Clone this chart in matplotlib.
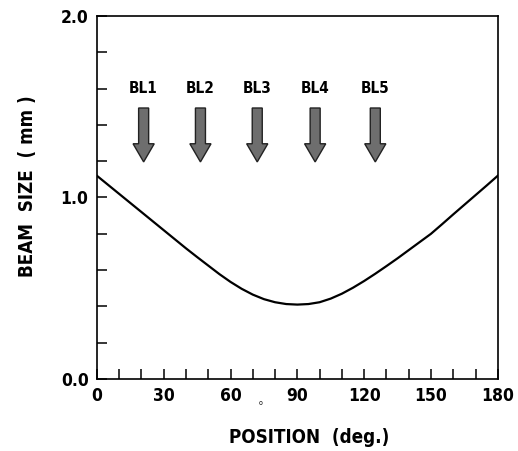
import matplotlib
matplotlib.use("Agg")
import matplotlib.pyplot as plt
from matplotlib.patches import FancyArrow
import numpy as np

plt.rcParams['font.family'] = ['DejaVu Sans']
plt.rcParams['font.stretch'] = 'condensed'
plt.rcParams['font.weight'] = 'bold'
plt.rcParams['axes.labelweight'] = 'bold'

position = [0, 5, 10, 15, 20, 25, 30, 35, 40, 45, 50, 55, 60, 65, 70, 75, 80, 85, 90,
            95, 100, 105, 110, 115, 120, 125, 130, 135, 140, 145, 150, 155, 160, 165, 170, 175, 180]
beam_size = [1.12, 1.07, 1.02, 0.97, 0.92, 0.87, 0.82, 0.77, 0.72, 0.672, 0.625, 0.578, 0.535,
             0.497, 0.465, 0.44, 0.423, 0.413, 0.41, 0.413, 0.423, 0.443, 0.47, 0.503, 0.54,
             0.58, 0.622, 0.665, 0.71, 0.755, 0.80, 0.853, 0.907, 0.96, 1.013, 1.066, 1.12]
beamlines = ["BL1", "BL2", "BL3", "BL4", "BL5"]
beamline_pos = [21, 46.5, 72, 98, 125]

fig = plt.figure(figsize=(5.18, 4.51), dpi=100)
ax = fig.add_axes([0.187, 0.1596, 0.774, 0.805])
ax.plot(position, beam_size, color='black', lw=1.6)

ax.set_xlim(0, 180)
ax.set_ylim(0, 2.0)
ax.set_xticks([0, 30, 60, 90, 120, 150, 180])
ax.set_xticks(np.arange(0, 181, 10), minor=True)
ax.set_yticks([0.0, 1.0, 2.0])
ax.set_yticklabels(["0.0", "1.0", "2.0"])
ax.set_yticks(np.arange(0, 2.01, 0.2), minor=True)
ax.tick_params(which='both', direction='in', length=7, width=1.1, top=False, right=False,
               labelsize=12.5, pad=6)
for s in ax.spines.values():
    s.set_linewidth(1.2)

for name, p in zip(beamlines, beamline_pos):
    ax.text(p, 1.60, name, ha='center', va='center', fontsize=11)
    ax.add_patch(FancyArrow(p, 1.493, 0, -0.297, width=4.5, head_width=9.5,
                            head_length=0.1, length_includes_head=True,
                            facecolor='#6e6e6e', edgecolor='#222222', lw=1.0))

ax.set_xlabel("POSITION  (deg.)", fontsize=13.5)
ax.xaxis.set_label_coords(0.53, -0.135)
ax.set_ylabel("BEAM  SIZE  ( mm )", fontsize=13.5)
ax.yaxis.set_label_coords(-0.15, 0.53)
fig.text(261 / 518, 1 - 403 / 451, "o", fontsize=5, ha='center', va='center',
         weight='normal')

fig.savefig("out.png", dpi=100)
